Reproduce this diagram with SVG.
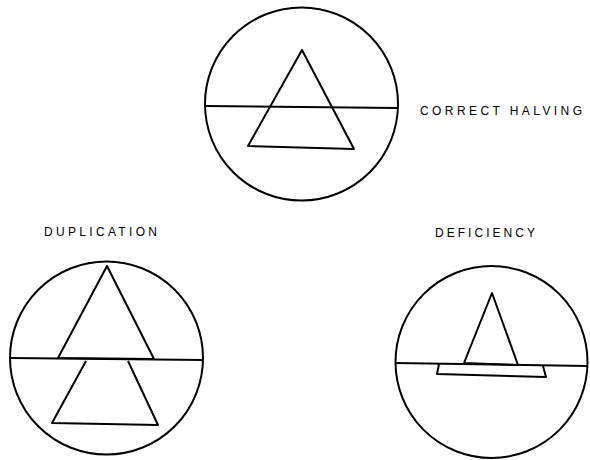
<svg xmlns="http://www.w3.org/2000/svg" width="590" height="460" viewBox="0 0 590 460">
<style>
.s{fill:none;stroke:#000;stroke-width:2;stroke-linejoin:round}
.t{font-family:"Liberation Sans",Arial,sans-serif;font-size:12px;fill:#000}
</style>
<rect width="590" height="460" fill="#fff"/>
<g id="correct">
<circle class="s" cx="301.5" cy="104" r="96.5"/>
<path class="s" d="M205 106 L398 108"/>
<path class="s" d="M302 50 L248 146 L354 149 Z"/>
<text class="t" x="420" y="115" textLength="162" lengthAdjust="spacing">CORRECT HALVING</text>
</g>
<g id="duplication">
<circle class="s" cx="106.5" cy="358" r="96.5"/>
<path class="s" d="M10 358 L203 360"/>
<path class="s" d="M107 266 L58 358 L154 359 Z"/>
<path class="s" d="M86 361 L52 423 L158 425 L128 361"/>
<text class="t" x="44" y="236" textLength="113" lengthAdjust="spacing">DUPLICATION</text>
</g>
<g id="deficiency">
<circle class="s" cx="491.5" cy="362" r="96"/>
<path class="s" d="M395 363 L588 366"/>
<path class="s" d="M492 293 L464 363 L518 365 Z"/>
<path class="s" d="M439 364 L437 374 L546 377 L543 366"/>
<text class="t" x="435" y="237" textLength="100" lengthAdjust="spacing">DEFICIENCY</text>
</g>
</svg>
